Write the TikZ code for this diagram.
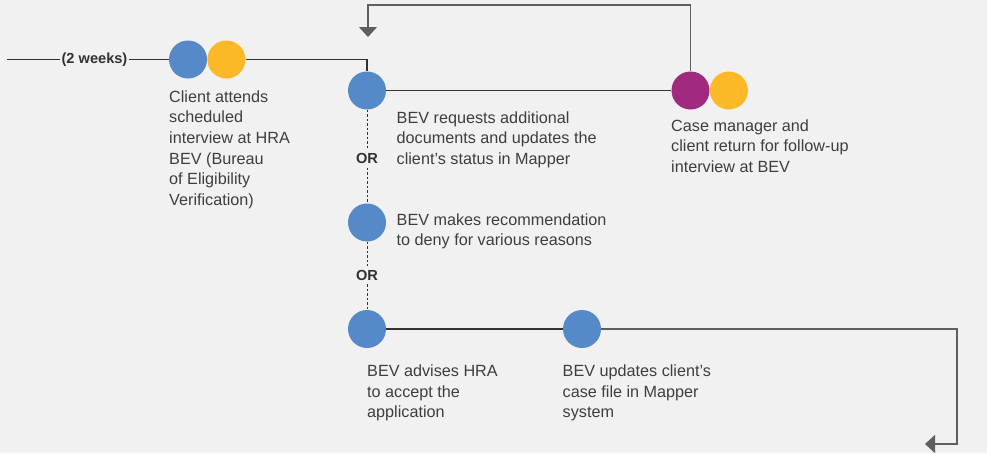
\documentclass[tikz,border=0pt]{standalone}
\usepackage{fontspec}
\setmainfont{Liberation Sans}
\usepackage{xcolor}
\definecolor{bevBlue}{RGB}{86,137,200}
\definecolor{bevYellow}{RGB}{253,184,39}
\definecolor{bevPurple}{RGB}{160,42,128}
\definecolor{bevBack}{RGB}{240,241,240}
\definecolor{bevText}{RGB}{62,62,62}
\definecolor{bevLine}{RGB}{50,50,50}
\definecolor{bevLoop}{RGB}{95,95,95}
\usetikzlibrary{arrows.meta,positioning}

\begin{document}
\begin{tikzpicture}[
    x=1pt, y=-1pt,
    dot/.style={circle, minimum size=38pt, inner sep=0pt, draw=none},
    bevdot/.style={dot, fill=bevBlue},
    clientdot/.style={dot, fill=bevYellow},
    cmdot/.style={dot, fill=bevPurple},
    note/.style={anchor=base west, align=left, inner sep=0pt, text=bevText,
      font=\fontsize{16.2}{20.6}\selectfont},
    tag/.style={inner sep=1pt, text=bevLine, font=\fontsize{14.6}{16}\selectfont\bfseries},
    ortag/.style={tag, inner sep=4pt},
    flow/.style={line width=1.1pt, draw=bevLine},
    loopback/.style={line width=1.3pt, draw=bevLoop},
    choice/.style={line width=0.9pt, draw=bevLine, dash pattern=on 2.5pt off 2pt},
    tip/.style={-{Triangle[width=18pt, length=10pt]}}
  ]
    \useasboundingbox (0,0) rectangle (987,453);
    \fill[bevBack] (0,0) rectangle (987,453);

    % circles
    \node[bevdot] (interview) at (188,59.5) {};
    \node[clientdot, right=0pt of interview] (interviewc) {};
    \node[bevdot] (request) at (367,90.5) {};
    \node[cmdot] (followup) at (690.5,90.5) {};
    \node[clientdot, right=0pt of followup] (followupc) {};
    \node[bevdot] (deny) at (367,222.5) {};
    \node[bevdot] (accept) at (367,329) {};
    \node[bevdot] (update) at (582,329) {};

    % labels
    \node[tag] (wait) at (94.5,59.5) {(2 weeks)};
    \node[ortag] (or1) at (367,158.5) {OR};
    \node[ortag] (or2) at (367,275) {OR};

    % notes sit on the baseline of their last line
    \node[note] (interviewtxt) at (169,205.3) {Client attends\\scheduled\\interview at HRA\\BEV (Bureau\\of Eligibility\\Verification)};
    \node[note] (requesttxt) at (396.5,164.5) {BEV requests additional\\documents and updates the\\client's status in Mapper};
    \node[note] (followuptxt) at (671,172.2) {Case manager and\\client return for follow-up\\interview at BEV};
    \node[note] (denytxt) at (396.5,245.6) {BEV makes recommendation\\to deny for various reasons};
    \node[note] (accepttxt) at (367,417.9) {BEV advises HRA\\to accept the\\application};
    \node[note] (updatetxt) at (562.5,417.9) {BEV updates client's\\case file in Mapper\\system};

    % free ends
    \coordinate (start) at (7,59.5);
    \coordinate (looptop) at (0,5);
    \coordinate (backtip) at (368,37);
    \coordinate (outcorner) at (957,444);
    \coordinate (outtip) at (925,444);

    % connectors
    \draw[flow] (start) -- (wait) -- (interview);
    \draw[flow] (interviewc.east) -| (request.north);
    \draw[flow] (request) -- (followup);
    \draw[loopback, tip] (followup.north) -- (followup.north |- looptop) -| (backtip);
    \draw[choice] (request) -- (or1) -- (deny);
    \draw[choice] (deny) -- (or2) -- (accept);
    \draw[flow] (accept) -- (update);
    \draw[loopback, tip] (update) -| (outcorner) -- (outtip);
  \end{tikzpicture}
\end{document}
